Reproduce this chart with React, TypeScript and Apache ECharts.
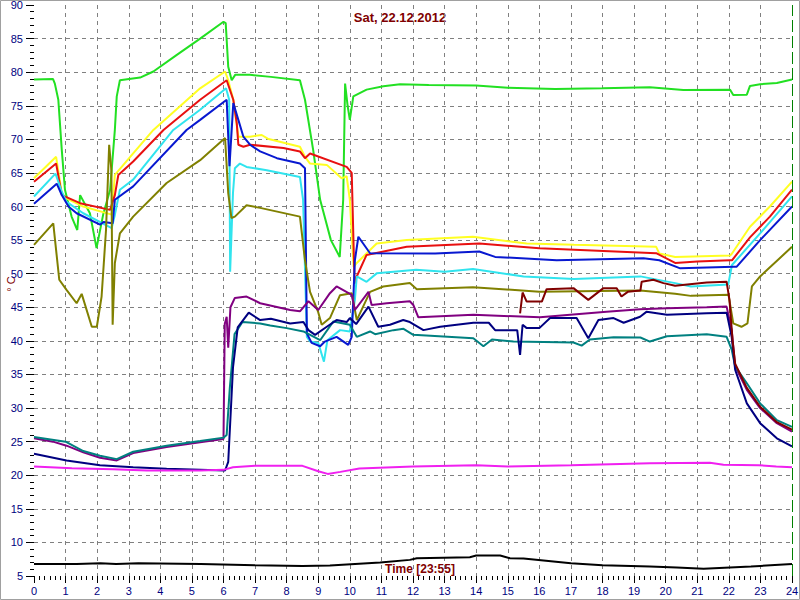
import React, { useEffect, useRef } from "react";
import * as echarts from "echarts";

const TITLE = "Sat, 22.12.2012";
const TIME_LABEL = "Time [23:55]";
const Y_NAME = "° C";

const green: number[][] = [[0,78.9],[0.6,79.0],[0.66,78.3],[0.77,75.9],[0.88,68.4],[0.98,62.5],[1.19,58.5],[1.37,56.5],[1.46,61.7],[1.77,59.0],[1.98,53.8],[2.19,58.8],[2.41,62.5],[2.56,71.4],[2.62,76.4],[2.72,78.8],[3.36,79.2],[3.78,80.1],[4.5,82.5],[5.26,85.0],[6.0,87.5],[6.07,87.3],[6.15,80.8],[6.26,78.8],[6.37,79.6],[6.84,79.6],[7.5,79.3],[8.42,78.8],[8.58,75.9],[8.84,68.4],[9.06,61],[9.4,55],[9.68,52.5],[9.79,61],[9.85,78.3],[9.93,75],[10.0,72.9],[10.11,76.4],[10.53,77.4],[11.06,77.9],[11.59,78.2],[12.5,78.1],[14,78.0],[15,77.7],[16.5,77.5],[18,77.6],[19.5,77.75],[20.56,77.35],[22.04,77.4],[22.14,76.6],[22.57,76.65],[22.67,77.95],[22.99,78.2],[23.52,78.4],[24,78.9]];

const yellow: number[][] = [[0,64.2],[0.7,67.4],[0.88,62.0],[1.03,61.2],[1.56,60.0],[2.46,58.8],[2.56,64.7],[3.14,67.9],[3.78,71.4],[5.26,77.6],[6.05,80.1],[6.15,78.8],[6.31,75.9],[6.47,70.4],[6.84,70.4],[7.21,70.65],[7.4,70.1],[8.42,68.9],[8.58,67.4],[8.74,66.4],[9.27,66.2],[9.74,64.2],[9.9,64.5],[10.0,61.0],[10.12,51.0],[10.22,51.6],[10.85,54.5],[11.8,55.0],[13.9,55.5],[15.6,54.5],[17.1,54.3],[19.7,54.0],[19.8,53.0],[20.3,52.5],[22.04,52.7],[22.1,53.0],[22.67,57.0],[23.3,60.0],[24,63.7]];

const red: number[][] = [[0,63.7],[0.7,66.4],[0.88,61.7],[1.46,60.5],[2.41,59.5],[2.56,61.7],[2.67,64.7],[3.14,66.7],[4.1,71.4],[5.26,75.9],[6.1,78.8],[6.31,75.9],[6.42,72.4],[6.47,69.2],[6.63,68.9],[6.84,69.2],[7.9,68.7],[8.42,68.2],[8.58,67.2],[8.74,67.9],[9.9,65.9],[10.06,65.0],[10.15,48.5],[10.2,49.4],[10.53,52.8],[11.8,54.0],[14.1,54.5],[16.0,53.8],[19.7,53.05],[20.3,51.6],[21.0,51.8],[22.04,52.0],[22.1,52.0],[22.67,55.4],[23.3,58.5],[24,62.5]];

const cyan: number[][] = [[0,61.5],[0.68,64.9],[0.88,62.2],[1.03,60.7],[1.56,59.0],[2.46,56.8],[2.56,58.75],[2.72,62.5],[3.14,64.0],[4.41,71.4],[5.26,74.4],[6.08,77.6],[6.18,75.9],[6.21,50.3],[6.3,62],[6.36,65.7],[6.52,66.4],[6.73,65.9],[7.37,65.4],[8.42,64.4],[8.52,61],[8.64,40.6],[8.74,39.9],[9.0,39.7],[9.18,36.9],[9.29,40.1],[9.69,41.6],[10.0,41.4],[10.16,46.1],[10.22,49.6],[10.53,48.8],[10.85,50.05],[12.1,50.6],[13.0,50.3],[13.9,50.7],[15.5,49.6],[17.1,49.2],[19.2,49.6],[20.3,48.6],[20.8,48.1],[21.98,48.4],[22.1,51.3],[22.99,56],[24,61.5]];

const blue: number[][] = [[0,60.4],[0.72,63.4],[0.88,61.7],[1.09,60.0],[1.35,59.0],[2.09,57.3],[2.2,57.7],[2.49,57.5],[2.56,61.0],[3.14,63.0],[4.83,71.4],[5.26,72.9],[6.1,75.9],[6.19,66],[6.31,75.4],[6.47,72.9],[6.63,70.4],[6.84,69.2],[7.16,68.2],[7.69,67.2],[8.42,66.4],[8.58,65.7],[8.64,41.1],[8.79,39.7],[9.06,39.2],[9.21,39.9],[9.58,40.6],[9.95,39.4],[10.06,40.6],[10.16,52],[10.27,55.5],[10.64,53.05],[12.7,53.0],[14.1,53.3],[14.6,52.5],[16.55,52.0],[19.3,52.3],[19.8,52.0],[20.46,50.8],[22.15,51.05],[22.25,51.05],[22.99,55],[24,60]];

const olive: number[][] = [[0,54.3],[0.61,57.5],[0.8,49.1],[1.03,47.6],[1.35,45.6],[1.51,47.0],[1.83,42.1],[1.99,42.1],[2.14,46.6],[2.28,56.5],[2.38,69.2],[2.45,65.4],[2.49,42.4],[2.56,51.6],[2.72,56],[3.14,58.5],[4.2,63.5],[5.26,66.9],[6.05,70.2],[6.15,62],[6.25,58.3],[6.36,58.5],[6.73,60.2],[7.16,59.8],[8.42,58.5],[8.58,52],[8.74,47.3],[8.99,44.4],[9.11,42.4],[9.37,43.4],[9.69,46.8],[10.06,47.1],[10.22,43.1],[10.64,47.3],[11.06,48.1],[11.9,48.6],[12.12,47.7],[13.9,48.0],[16.0,47.3],[19.2,47.5],[20.3,47.0],[20.8,46.7],[21.99,46.85],[22.14,42.6],[22.4,42.1],[22.59,42.6],[22.73,48.1],[22.99,49.6],[24,54.0]];

const purple: number[][] = [[0,25.5],[0.6,25.0],[1.03,24.4],[1.56,23.4],[2.09,22.6],[2.62,22.2],[3.14,23.3],[4.2,24.2],[5.26,24.9],[6.0,25.4],[6.04,42.5],[6.1,43.6],[6.15,39],[6.22,45],[6.36,46.4],[6.73,46.6],[7.16,45.6],[8.11,44.6],[8.42,44.4],[8.69,45.9],[9.0,44.6],[9.37,47.1],[9.58,48.1],[10.06,46.85],[10.16,44.6],[10.59,47.3],[10.69,45.35],[11.17,45.6],[11.9,45.9],[12.01,45.35],[12.17,43.5],[13.91,43.9],[16.02,43.5],[18.13,44.35],[19.19,44.7],[20.04,44.85],[21.3,45.0],[21.93,45.1],[22.09,41.6],[22.2,36.2],[22.57,32.7],[22.99,30.0],[23.52,27.75],[24,26.5]];

const teal: number[][] = [[0,25.7],[1.0,25.0],[1.56,23.6],[2.09,22.9],[2.62,22.4],[3.14,23.5],[4.2,24.4],[5.26,25.1],[6.0,25.6],[6.1,26],[6.2,33],[6.35,41],[6.6,42.8],[7.16,42.6],[7.48,42.3],[8.0,41.9],[8.53,41.4],[9.06,40.1],[9.48,42.9],[10.0,42.4],[10.22,40.6],[10.64,41.4],[10.8,41.0],[11.38,41.6],[11.7,41.8],[12.01,40.9],[13.91,40.4],[14.23,39.2],[14.5,40.2],[15.18,39.9],[17.08,39.75],[17.34,39.3],[17.6,40.2],[18.35,40.55],[19.2,40.5],[19.5,39.9],[20.04,40.7],[21.3,41.0],[21.93,40.6],[22.09,38.7],[22.2,36.2],[22.57,33.7],[22.99,30.7],[23.52,28.2],[24,27.2]];

const navy: number[][] = [[0,23.2],[1.03,22.2],[2.09,21.5],[3.14,21.2],[4.2,20.95],[6.05,20.7],[6.15,22],[6.3,36],[6.45,42],[6.8,44.2],[7.16,43.1],[7.5,43.3],[8.11,42.6],[8.53,42.8],[8.69,41.6],[8.9,40.9],[9.27,42.1],[9.58,43.1],[9.9,42.8],[10.0,43.4],[10.2,42.5],[10.59,45.1],[10.9,42.1],[11.27,42.4],[11.69,43.1],[11.9,42.8],[12.33,41.6],[12.86,42.1],[13.91,42.7],[14.4,42.7],[14.6,41.6],[15.3,41.6],[15.39,37.9],[15.47,42.4],[15.6,41.9],[16.0,41.9],[16.34,43.4],[17.18,43.4],[17.55,40.4],[17.87,43.1],[18.35,43.4],[18.67,42.7],[19.19,43.6],[19.4,44.35],[20.04,43.9],[21.3,44.1],[21.93,44.2],[22.09,40.6],[22.2,35.7],[22.57,30.7],[22.99,27.75],[23.52,25.5],[24,24.3]];

const maroon: number[][] = [[15.39,44.1],[15.47,47.2],[15.6,45.85],[16.08,45.85],[16.23,47.7],[17.08,47.85],[17.55,46.1],[18.03,47.85],[18.45,47.85],[18.6,46.6],[18.8,47.3],[19.2,47.5],[19.24,48.8],[19.61,49.1],[19.93,48.6],[20.3,48.2],[21.3,48.7],[21.93,48.8],[22.02,46.1],[22.12,40],[22.2,36.6],[22.57,33],[22.99,30.2],[23.52,27.9],[24,26.8]];

const magenta: number[][] = [[0,21.3],[1.2,21.05],[2.5,20.9],[3.57,20.7],[5.27,20.7],[6.0,20.8],[6.3,21.2],[7.0,21.4],[8.5,21.4],[9.0,20.6],[9.3,20.2],[9.7,20.5],[10.3,21.0],[12,21.3],[14,21.5],[15,21.3],[17,21.5],[19.5,21.8],[21.4,21.85],[21.83,21.55],[22.94,21.5],[23.5,21.3],[24,21.2]];

const black: number[][] = [[0,6.8],[1.35,6.8],[2.1,6.9],[2.6,6.8],[3.3,6.9],[5.28,6.8],[7,6.6],[8.5,6.5],[9.37,6.57],[10.96,7.0],[11.9,7.4],[12.12,7.65],[13.8,7.8],[14.0,8.05],[14.76,8.05],[15.07,7.65],[15.5,7.6],[17.0,6.9],[18.0,6.6],[19.5,6.4],[20.35,6.25],[21.2,6.07],[22.7,6.4],[23.0,6.5],[24,6.77]];

const seriesList: { name: string; data: number[][]; color: string }[] = [
  { name: "green", data: green, color: "#22e022" },
  { name: "yellow", data: yellow, color: "#ffff22" },
  { name: "red", data: red, color: "#e81010" },
  { name: "cyan", data: cyan, color: "#30e4ee" },
  { name: "blue", data: blue, color: "#0818d0" },
  { name: "olive", data: olive, color: "#808000" },
  { name: "purple", data: purple, color: "#800080" },
  { name: "teal", data: teal, color: "#008080" },
  { name: "navy", data: navy, color: "#000080" },
  { name: "maroon", data: maroon, color: "#800000" },
  { name: "magenta", data: magenta, color: "#f020f0" },
  { name: "black", data: black, color: "#000000" },
];

export default function App() {
  const ref = useRef<HTMLDivElement>(null);
  useEffect(() => {
    if (!ref.current) return;
    const chart = echarts.init(ref.current, undefined, { renderer: "svg" });
    const font = "'Liberation Sans', Arial, sans-serif";
    const series: any[] = seriesList.map((s) => ({
      name: s.name,
      type: "line",
      data: s.data,
      showSymbol: false,
      symbol: "none",
      lineStyle: { color: s.color, width: 2 },
      itemStyle: { color: s.color },
      silent: true,
    }));
    series[series.length - 1].markLine = {
      silent: true,
      symbol: ["none", "none"],
      label: { show: false },
      lineStyle: { color: "#008000", type: [12, 4], width: 1 },
      data: [{ xAxis: 24 }],
    };
    chart.setOption({
      animation: false,
      backgroundColor: "#ffffff",
      grid: { left: 34, right: 8, top: 5, bottom: 24, containLabel: false, outerBoundsMode: "none" },
      xAxis: {
        type: "value",
        min: 0,
        max: 24,
        interval: 1,
        axisLine: { show: false },
        axisTick: { show: true, length: 7, lineStyle: { color: "#000" } },
        minorTick: { show: true, splitNumber: 6, length: 4, lineStyle: { color: "#000" } },
        axisLabel: { color: "#000080", fontSize: 11, fontFamily: font, margin: 9 },
        splitLine: {
          show: true,
          showMinLine: false,
          showMaxLine: false,
          lineStyle: { color: "#808080", type: [4, 4], width: 1 },
        },
      },
      yAxis: {
        type: "value",
        min: 5,
        max: 90,
        interval: 5,
        axisLine: { show: false },
        axisTick: { show: true, length: 8, lineStyle: { color: "#000" } },
        minorTick: { show: true, splitNumber: 5, length: 4, lineStyle: { color: "#000" } },
        axisLabel: { color: "#000080", fontSize: 11, fontFamily: font, margin: 11 },
        splitLine: {
          show: true,
          showMinLine: false,
          showMaxLine: false,
          lineStyle: { color: "#808080", type: [4, 4], width: 1 },
        },
      },
      graphic: [
        {
          type: "rect",
          shape: { x: 0.5, y: 0.5, width: 799, height: 599 },
          style: { fill: "none", stroke: "#a0a0a0", lineWidth: 1 },
          silent: true,
        },
        {
          type: "text",
          x: 11,
          y: 284,
          rotation: Math.PI / 2,
          style: {
            text: Y_NAME,
            fill: "#800000",
            font: "11px 'Liberation Sans', Arial, sans-serif",
            textAlign: "center",
            textVerticalAlign: "middle",
          },
        },
        {
          type: "text",
          x: 400,
          y: 17,
          style: {
            text: TITLE,
            fill: "#800000",
            font: "bold 13px 'Liberation Sans', Arial, sans-serif",
            textAlign: "center",
            textVerticalAlign: "middle",
          },
        },
        {
          type: "text",
          x: 420,
          y: 569,
          style: {
            text: TIME_LABEL,
            fill: "#800000",
            font: "bold 12px 'Liberation Sans', Arial, sans-serif",
            textAlign: "center",
            textVerticalAlign: "middle",
          },
        },
      ],
      series,
    });
    return () => chart.dispose();
  }, []);
  return (
    <div
      ref={ref}
      style={{ position: "fixed", left: 0, top: 0, width: 800, height: 600, background: "#fff" }}
    />
  );
}
